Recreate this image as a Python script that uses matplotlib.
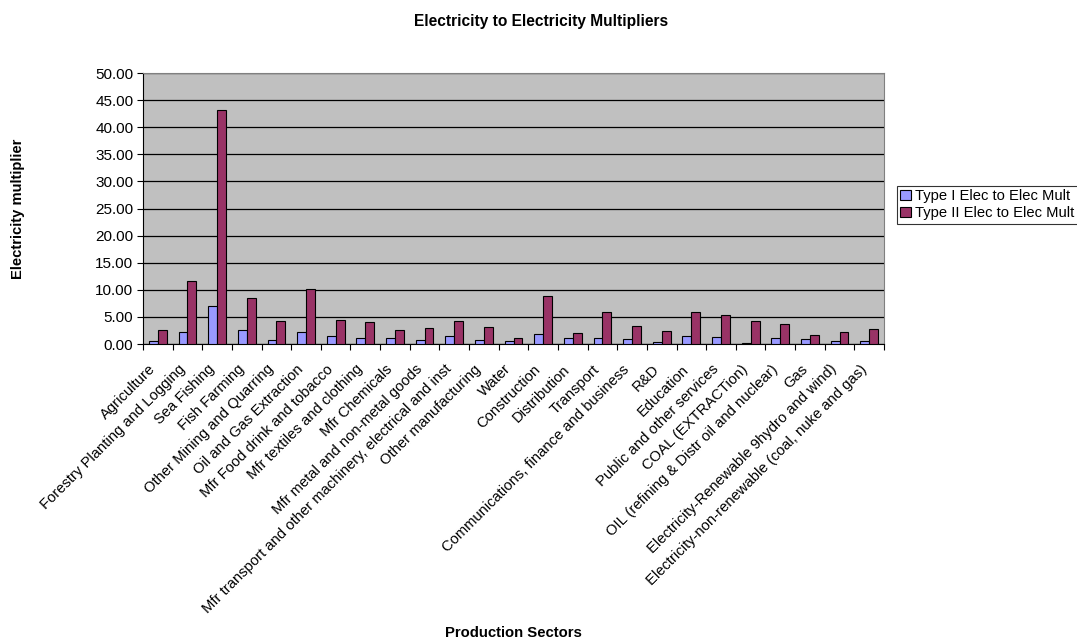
import numpy as np
import matplotlib
matplotlib.use('Agg')
import matplotlib.pyplot as plt
import matplotlib.transforms as mtransforms
from matplotlib.ticker import FixedLocator, FormatStrFormatter

plt.rcParams['font.family'] = ['Liberation Sans', 'DejaVu Sans']

# Sectores e multiplicadores
sectors = [
    'Agriculture', 'Forestry Planting and Logging', 'Sea Fishing', 'Fish Farming',
    'Other Mining and Quarring', 'Oil and Gas Extraction', 'Mfr Food drink and tobacco',
    'Mfr textiles and clothing', 'Mfr Chemicals', 'Mfr metal and non-metal goods',
    'Mfr transport and other machinery, electrical and inst', 'Other manufacturing',
    'Water', 'Construction', 'Distribution', 'Transport',
    'Communications, finance and business', 'R&D', 'Education',
    'Public and other services', 'COAL (EXTRACTion)',
    'OIL (refining & Distr oil and nuclear)', 'Gas',
    'Electricity-Renewable 9hydro and wind)',
    'Electricity-non-renewable (coal, nuke and gas)',
]
type1 = [0.6, 2.2, 7.1, 2.5, 0.7, 2.2, 1.5, 1.1, 1.05, 0.8, 1.5, 0.8, 0.6,
         1.85, 1.1, 1.2, 1.0, 0.45, 1.4, 1.35, 0.1, 1.05, 0.85, 0.55, 0.55]
type2 = [2.6, 11.7, 43.2, 8.5, 4.3, 10.2, 4.4, 4.0, 2.65, 3.0, 4.3, 3.1, 1.2,
         8.95, 2.0, 6.0, 3.3, 2.35, 5.9, 5.3, 4.2, 3.7, 1.6, 2.2, 2.7]
series_names = ['Type I Elec to Elec Mult', 'Type II Elec to Elec Mult']

fig = plt.figure(figsize=(10.77, 6.41), dpi=100)
ax = fig.add_axes([0.1328, 0.4633, 0.688, 0.4228])
ax.set_facecolor('#C0C0C0')

x = np.arange(len(sectors))
w = 0.3
ax.bar(x - w / 2, type1, w, color='#9999FF', edgecolor='black', linewidth=0.8,
       label=series_names[0], zorder=3)
ax.bar(x + w / 2, type2, w, color='#993366', edgecolor='black', linewidth=0.8,
       label=series_names[1], zorder=3)

ax.set_xlim(-0.5, len(sectors) - 0.5)
ax.set_ylim(0, 50)
ax.set_yticks(np.arange(0, 50.1, 5))
ax.yaxis.set_major_formatter(FormatStrFormatter('%.2f'))
ax.grid(axis='y', color='black', linewidth=0.9, zorder=1)

# traços nas fronteiras, rótulos no centro das categorias
ax.xaxis.set_major_locator(FixedLocator(np.arange(-0.5, len(sectors), 1)))
ax.set_xticklabels([])
ax.set_xticks(x, minor=True)
ax.set_xticklabels(sectors, minor=True, rotation=45, ha='right', va='top',
                   rotation_mode='anchor', fontsize=10.6)
ax.tick_params(axis='x', which='minor', length=0, pad=9)
ax.tick_params(axis='x', which='major', length=4, direction='out', color='black')
ax.tick_params(axis='y', length=4, direction='out', labelsize=11, pad=3)

# desloca os rótulos um pouco para baixo e para a esquerda
shift = mtransforms.ScaledTranslation(-7 / 72, -4 / 72, fig.dpi_scale_trans)
for lbl in ax.get_xticklabels(minor=True):
    lbl.set_transform(lbl.get_transform() + shift)

for s in ax.spines.values():
    s.set_color('#808080')
ax.spines['bottom'].set_color('black')
ax.spines['left'].set_color('black')

fig.text(0.502, 0.967, 'Electricity to Electricity Multipliers', ha='center',
         va='center', fontsize=11.2, fontweight='bold')
fig.text(0.4768, 0.0125, 'Production Sectors', ha='center', va='center',
         fontsize=10.7, fontweight='bold')
fig.text(0.0167, 0.675, 'Electricity multiplier', ha='center', va='center',
         rotation=90, fontsize=10.6, fontweight='bold')

leg = fig.legend(loc='center left', bbox_to_anchor=(0.8325, 0.6805), fontsize=10.6,
                 frameon=True, fancybox=False, edgecolor='black',
                 handlelength=0.7, handleheight=0.7, handletextpad=0.3,
                 borderpad=0.25, labelspacing=0.2, borderaxespad=0)
leg.get_frame().set_linewidth(0.8)

fig.savefig('out.png', dpi=100)
